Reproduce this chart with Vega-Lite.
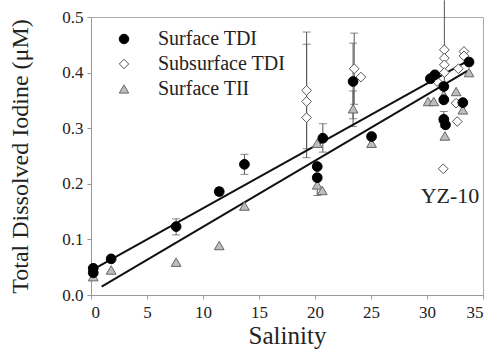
{
  "$schema": "https://vega.github.io/schema/vega-lite/v6.json",
  "width": 392,
  "height": 278,
  "autosize": {"type": "none"},
  "padding": {"left": 91, "top": 17, "right": 10, "bottom": 59},
  "background": "white",
  "config": {
    "view": {"stroke": "#aaaaaa", "strokeWidth": 1},
    "font": "Liberation Serif",
    "axis": {
      "grid": false,
      "domainColor": "#999999",
      "tickColor": "#999999",
      "tickSize": 4,
      "labelFont": "Liberation Serif",
      "labelFontSize": 17,
      "labelColor": "#222222",
      "titleFont": "Liberation Serif",
      "titleFontWeight": "normal",
      "titleColor": "#222222"
    }
  },
  "datasets": {
    "pts": [
      {"series": "Surface TII", "s": 0.2, "v": 0.033},
      {"series": "Surface TII", "s": 1.8, "v": 0.045},
      {"series": "Surface TII", "s": 7.6, "v": 0.059},
      {"series": "Surface TII", "s": 11.45, "v": 0.089},
      {"series": "Surface TII", "s": 13.7, "v": 0.16},
      {"series": "Surface TII", "s": 20.2, "v": 0.273},
      {"series": "Surface TII", "s": 20.2, "v": 0.198, "lo": 0.179, "hi": 0.217},
      {"series": "Surface TII", "s": 20.65, "v": 0.188},
      {"series": "Surface TII", "s": 23.4, "v": 0.335, "lo": 0.303, "hi": 0.367},
      {"series": "Surface TII", "s": 25.05, "v": 0.273},
      {"series": "Surface TII", "s": 30.1, "v": 0.348},
      {"series": "Surface TII", "s": 30.6, "v": 0.348},
      {"series": "Surface TII", "s": 31.5, "v": 0.36},
      {"series": "Surface TII", "s": 31.5, "v": 0.318},
      {"series": "Surface TII", "s": 31.6, "v": 0.286},
      {"series": "Surface TII", "s": 32.6, "v": 0.366},
      {"series": "Surface TII", "s": 33.2, "v": 0.333},
      {"series": "Surface TII", "s": 33.75, "v": 0.4},
      {"series": "Subsurface TDI", "s": 19.25, "v": 0.368, "lo": 0.263, "hi": 0.473},
      {"series": "Subsurface TDI", "s": 19.25, "v": 0.348, "lo": 0.247, "hi": 0.451},
      {"series": "Subsurface TDI", "s": 19.25, "v": 0.319},
      {"series": "Subsurface TDI", "s": 23.5, "v": 0.407, "lo": 0.343, "hi": 0.471},
      {"series": "Subsurface TDI", "s": 24.1, "v": 0.392},
      {"series": "Subsurface TDI", "s": 30.9, "v": 0.384},
      {"series": "Subsurface TDI", "s": 31.55, "v": 0.441, "lo": 0.35, "hi": 0.53},
      {"series": "Subsurface TDI", "s": 31.55, "v": 0.426},
      {"series": "Subsurface TDI", "s": 31.55, "v": 0.414},
      {"series": "Subsurface TDI", "s": 31.55, "v": 0.4},
      {"series": "Subsurface TDI", "s": 33.3, "v": 0.438},
      {"series": "Subsurface TDI", "s": 33.3, "v": 0.43},
      {"series": "Subsurface TDI", "s": 32.8, "v": 0.407},
      {"series": "Subsurface TDI", "s": 32.6, "v": 0.345},
      {"series": "Subsurface TDI", "s": 32.7, "v": 0.312},
      {"series": "Subsurface TDI", "s": 31.45, "v": 0.227},
      {"series": "Surface TDI", "s": 0.2, "v": 0.048, "lo": 0.043, "hi": 0.053},
      {"series": "Surface TDI", "s": 0.2, "v": 0.04},
      {"series": "Surface TDI", "s": 1.8, "v": 0.065},
      {"series": "Surface TDI", "s": 7.6, "v": 0.123, "lo": 0.108, "hi": 0.137},
      {"series": "Surface TDI", "s": 11.45, "v": 0.186, "lo": 0.179, "hi": 0.193},
      {"series": "Surface TDI", "s": 13.7, "v": 0.235, "lo": 0.217, "hi": 0.253},
      {"series": "Surface TDI", "s": 20.2, "v": 0.231},
      {"series": "Surface TDI", "s": 20.2, "v": 0.211},
      {"series": "Surface TDI", "s": 20.7, "v": 0.282, "lo": 0.257, "hi": 0.308},
      {"series": "Surface TDI", "s": 23.4, "v": 0.384, "lo": 0.317, "hi": 0.453},
      {"series": "Surface TDI", "s": 25.05, "v": 0.285},
      {"series": "Surface TDI", "s": 30.3, "v": 0.389},
      {"series": "Surface TDI", "s": 30.7, "v": 0.396},
      {"series": "Surface TDI", "s": 31.5, "v": 0.375},
      {"series": "Surface TDI", "s": 31.5, "v": 0.351},
      {"series": "Surface TDI", "s": 31.5, "v": 0.316, "lo": 0.302, "hi": 0.33},
      {"series": "Surface TDI", "s": 31.65, "v": 0.306},
      {"series": "Surface TDI", "s": 33.75, "v": 0.419},
      {"series": "Surface TDI", "s": 33.2, "v": 0.346}
    ],
    "fits": [
      {"fit": "TDI", "s": 0, "v": 0.044},
      {"fit": "TDI", "s": 33.8, "v": 0.423},
      {"fit": "TII", "s": 0.95, "v": 0.015},
      {"fit": "TII", "s": 33.6, "v": 0.403}
    ],
    "labels": [
      {"text": "YZ-10", "s": 32.05, "v": 0.166}
    ]
  },
  "layer": [
    {
      "data": {"name": "pts"},
      "transform": [{"filter": "isValid(datum.lo)"}],
      "mark": {"type": "rule", "color": "#555555", "strokeWidth": 1},
      "encoding": {
        "x": {"field": "s", "type": "quantitative"},
        "y": {"field": "lo", "type": "quantitative"},
        "y2": {"field": "hi"}
      }
    },
    {
      "data": {"name": "pts"},
      "transform": [{"filter": "isValid(datum.lo) && datum.lo >= 0"}],
      "mark": {"type": "tick", "orient": "horizontal", "color": "#555555", "size": 8, "thickness": 1},
      "encoding": {
        "x": {"field": "s", "type": "quantitative"},
        "y": {"field": "lo", "type": "quantitative"}
      }
    },
    {
      "data": {"name": "pts"},
      "transform": [{"filter": "isValid(datum.hi) && datum.hi <= 0.5"}],
      "mark": {"type": "tick", "orient": "horizontal", "color": "#555555", "size": 8, "thickness": 1},
      "encoding": {
        "x": {"field": "s", "type": "quantitative"},
        "y": {"field": "hi", "type": "quantitative"}
      }
    },
    {
      "data": {"name": "fits"},
      "mark": {"type": "line", "color": "#111111", "strokeWidth": 2},
      "encoding": {
        "x": {"field": "s", "type": "quantitative"},
        "y": {"field": "v", "type": "quantitative"},
        "detail": {"field": "fit"}
      }
    },
    {
      "data": {"name": "pts"},
      "mark": {"type": "point", "filled": true, "opacity": 1, "size": 95, "strokeWidth": 1},
      "encoding": {
        "x": {
          "field": "s", "type": "quantitative",
          "scale": {"domain": [0, 35], "nice": false, "zero": false},
          "axis": {"values": [0, 5, 10, 15, 20, 25, 30, 35], "title": "Salinity", "titleFontSize": 25, "titlePadding": 3, "labelPadding": 5, "labelFont": "Liberation Serif", "labelFontSize": 17, "titleFont": "Liberation Serif"}
        },
        "y": {
          "field": "v", "type": "quantitative",
          "scale": {"domain": [0, 0.5], "nice": false},
          "axis": {"values": [0, 0.1, 0.2, 0.3, 0.4, 0.5], "format": ".1f", "title": "Total Dissolved Iodine (μM)", "titleFontSize": 24, "titlePadding": 29, "labelPadding": 4, "labelFont": "Liberation Serif", "labelFontSize": 17, "titleFont": "Liberation Serif"}
        },
        "shape": {
          "field": "series", "type": "nominal",
          "scale": {"domain": ["Surface TDI", "Subsurface TDI", "Surface TII"], "range": ["circle", "diamond", "triangle-up"]},
          "legend": {"title": null}
        },
        "fill": {
          "field": "series", "type": "nominal",
          "scale": {"domain": ["Surface TDI", "Subsurface TDI", "Surface TII"], "range": ["#000000", "#ffffff", "#bdbdbd"]},
          "legend": {"title": null}
        },
        "stroke": {
          "field": "series", "type": "nominal",
          "scale": {"domain": ["Surface TDI", "Subsurface TDI", "Surface TII"], "range": ["#000000", "#555555", "#666666"]},
          "legend": {
            "title": null,
            "orient": "none",
            "legendX": 23,
            "legendY": 12,
            "padding": 0,
            "labelFont": "Liberation Serif",
            "labelFontSize": 20,
            "labelColor": "#222222",
            "labelOffset": 24,
            "rowPadding": 5,
            "symbolSize": 90,
            "symbolStrokeWidth": 1
          }
        },
        "order": {"value": 0}
      }
    },
    {
      "data": {"name": "labels"},
      "mark": {"type": "text", "font": "Liberation Serif", "fontSize": 22, "color": "#222222", "align": "center", "baseline": "alphabetic"},
      "encoding": {
        "x": {"field": "s", "type": "quantitative"},
        "y": {"field": "v", "type": "quantitative"},
        "text": {"field": "text"}
      }
    }
  ]
}
